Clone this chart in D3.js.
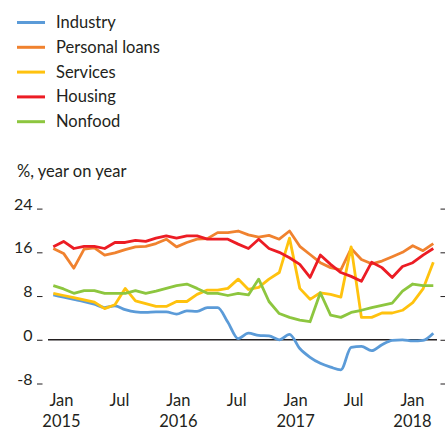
<!DOCTYPE html>
<html><head><meta charset="utf-8">
<script src="https://cdn.jsdelivr.net/npm/d3@7"></script>
<style>
html,body{margin:0;padding:0;background:#fff;}
svg text{font-family:Lato,"Open Sans",sans-serif;fill:#231f20;}
</style></head>
<body><svg id="c" width="445" height="431"></svg>
<script>
// ---- data ----
const months = d3.timeMonth.range(new Date(2015,0,1), new Date(2018,2,1)); // 38 monthly points
const seriesNames = ["Industry","Personal loans","Services","Housing","Nonfood"];
const seriesColors = ["#5b9bd8","#f0822f","#ffc20e","#ec1c24","#8dc63f"];
const industry = [8.2,7.8,7.4,7.0,6.5,5.9,6.2,5.5,5.1,5.0,5.1,5.1,4.7,5.3,5.2,5.9,5.9,3.2,0.2,1.2,0.8,0.7,0.0,1.0,-1.6,-3.2,-4.3,-5.0,-5.5,-1.4,-1.2,-2.0,-0.9,-0.1,0.0,-0.2,-0.1,1.2];
const personalLoans = [16.7,15.8,13.1,16.6,16.8,15.5,15.9,16.5,17.0,17.1,17.6,18.4,17.0,17.8,18.4,18.5,19.6,19.6,19.9,19.2,18.8,19.1,18.4,19.9,17.1,15.6,14.1,13.2,12.8,16.7,14.7,13.9,14.4,15.2,16.0,17.2,16.3,17.6];
const services = [8.5,8.1,7.7,7.3,6.9,5.7,6.4,9.4,7.1,6.6,6.1,6.1,7.0,7.0,8.3,9.1,9.1,9.4,11.1,9.2,9.6,11.1,12.3,18.6,9.4,7.4,8.6,8.3,7.8,17.0,4.1,4.1,4.9,4.9,5.4,6.8,9.3,14.2];
const housing = [17.0,18.0,16.7,17.1,17.1,16.7,17.8,17.8,18.2,18.0,18.6,19.0,18.6,19.0,19.0,18.4,18.4,18.4,17.5,16.7,18.4,16.7,16.0,15.0,13.8,11.4,15.5,13.8,12.3,11.6,10.7,14.2,13.2,11.4,13.4,14.1,15.5,16.7];
const nonfood = [9.9,9.3,8.5,9.0,9.0,8.5,8.5,8.5,9.0,8.5,8.9,9.4,9.9,10.2,9.4,8.5,8.5,8.1,8.5,8.2,11.1,7.0,4.8,4.1,3.6,3.3,8.6,4.5,4.1,5.0,5.4,5.9,6.3,6.7,8.9,10.2,9.9,9.9];
const yTicks = [24,16,8,0,-8];
const xTickDates = ["2015-01-01","2015-07-01","2016-01-01","2016-07-01","2017-01-01","2017-07-01","2018-01-01"];
const xTickMonth = ["Jan","Jul","Jan","Jul","Jan","Jul","Jan"];
const xTickYear = ["2015","","2016","","2017","","2018"];
const yTitle = "%, year on year";

const seriesValues = [industry, personalLoans, services, housing, nonfood];

// ---- chart ----
const svg = d3.select("#c");
const x = d3.scalePoint().domain(months.map(d=>+d)).range([53.3,433.3]);
const xAxisScale = d3.scaleTime().domain([new Date(2015,0,1), new Date(2018,0,1)]).range([61.5,412.5]);
const y = d3.scaleLinear().domain([-8,24]).range([383.5,208.6]);

// legend
const lg = svg.append("g");
seriesNames.forEach((n,i)=>{
  const yy = 22.5 + i*24.8;
  lg.append("line").attr("x1",17).attr("x2",45).attr("y1",yy).attr("y2",yy)
    .attr("stroke",seriesColors[i]).attr("stroke-width",3);
  lg.append("text").attr("x",56).attr("y",yy+5.5).attr("font-size",16.5).text(n);
});

svg.append("text").attr("x",17).attr("y",177).attr("font-size",16.5).text(yTitle);

// y ticks left and right
const yt = svg.append("g");
yTicks.forEach(v=>{
  const yy = y(v)+1;
  yt.append("text").attr("x",32.5).attr("y",yy).attr("text-anchor","end").attr("font-size",16).text(v);
  yt.append("line").attr("x1",37).attr("x2",42.5).attr("y1",yy-0.5).attr("y2",yy-0.5).attr("stroke","#231f20").attr("stroke-width",1);
  yt.append("line").attr("x1",440.5).attr("x2",445).attr("y1",yy-0.5).attr("y2",yy-0.5).attr("stroke","#231f20").attr("stroke-width",1);
});

// zero line
svg.append("line").attr("x1",48).attr("x2",437).attr("y1",y(0)).attr("y2",y(0))
  .attr("stroke","#231f20").attr("stroke-width",1.5);

// x labels
const xt = svg.append("g");
xTickDates.forEach((d,i)=>{
  const xx = xAxisScale(new Date(d+"T00:00:00"));
  xt.append("text").attr("x",xx).attr("y",405.5).attr("text-anchor","middle").attr("font-size",16.5).text(xTickMonth[i]);
  if (xTickYear[i]) xt.append("text").attr("x",xx).attr("y",427).attr("text-anchor","middle").attr("font-size",16.5).text(xTickYear[i]);
});

// lines
seriesValues.forEach((vals,si)=>{
  const line = d3.line().x((d,i)=>x(+months[i])).y(d=>y(d))
    .curve(si===0 ? d3.curveMonotoneX : d3.curveLinear);
  svg.append("path").datum(vals).attr("d",line).attr("fill","none")
    .attr("stroke",seriesColors[si]).attr("stroke-width",2.8)
    .attr("stroke-linejoin","round").attr("stroke-linecap","butt");
});
</script></body></html>
